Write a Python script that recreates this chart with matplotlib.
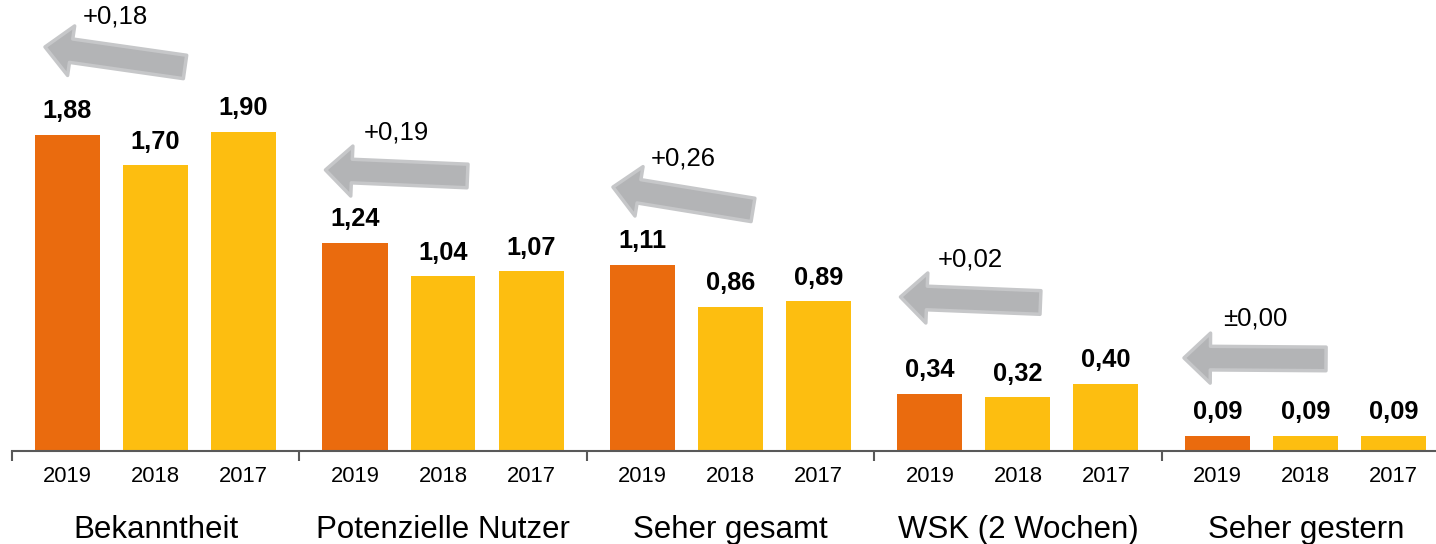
import matplotlib.pyplot as plt
from matplotlib.patches import FancyArrowPatch, ArrowStyle

plt.rcParams['font.family'] = ['Liberation Sans', 'DejaVu Sans']

categories = ["Bekanntheit", "Potenzielle Nutzer", "Seher gesamt", "WSK (2 Wochen)", "Seher gestern"]
years = ["2019", "2018", "2017"]
values = [
    [1.88, 1.70, 1.90],
    [1.24, 1.04, 1.07],
    [1.11, 0.86, 0.89],
    [0.34, 0.32, 0.40],
    [0.09, 0.09, 0.09],
]
deltas = ["+0,18", "+0,19", "+0,26", "+0,02", "±0,00"]

# Pfeil-Lage pro Gruppe: (x Spitze, y Spitze, x Ende, y Ende), x relativ zum Gruppenanfang
arrow_pos = [
    (0.375, 2.405, 1.966, 2.286),
    (0.295, 1.673, 1.909, 1.637),
    (0.295, 1.571, 1.886, 1.435),
    (0.295, 0.917, 1.886, 0.884),
    (0.25, 0.554, 1.864, 0.548),
]

colors = ["#EA6B0E", "#FDBE10", "#FDBE10"]
px = 88.0  # Pixel pro Balkenabstand
group_w = 287.5 / px
margin = 55.5 / px
bar_w = 65 / px

fig = plt.figure(figsize=(14.36, 5.44), dpi=100)
ax = fig.add_axes([12 / 1436, 93 / 544, 1 - 12 / 1436, 451 / 544])

xticks = []
for g, vals in enumerate(values):
    x0 = g * group_w
    for i, v in enumerate(vals):
        x = x0 + margin + i
        xticks.append(x)
        ax.bar(x, v, width=bar_w, color=colors[i], edgecolor="none")
        ax.annotate(f"{v:.2f}".replace(".", ","), (x, v), xytext=(0, 12),
                    textcoords="offset points", ha="center", va="baseline",
                    fontsize=18.3, fontweight="bold", color="black")
    ax.annotate(categories[g], (x0 + group_w / 2, 0), xycoords=("data", "axes fraction"),
                xytext=(0, -57), textcoords="offset points", ha="center", va="center",
                fontsize=22.5)
    ax_, ay, bx, by = arrow_pos[g]
    tip = (x0 + ax_, ay)
    tail = (x0 + bx, by)
    arr = FancyArrowPatch(tail, tip, arrowstyle=ArrowStyle.Simple(head_length=19, head_width=36, tail_width=17),
                          mutation_scale=1, shrinkA=0, shrinkB=0,
                          facecolor="#B3B4B6", edgecolor="#C6C7C9", linewidth=2.5, joinstyle="round")
    ax.add_patch(arr)
    mx = (tip[0] + tail[0]) / 2
    my = (tip[1] + tail[1]) / 2
    ax.annotate(deltas[g], (mx, my), xytext=(0, 29), textcoords="offset points",
                ha="center", va="center", fontsize=18.5)

ax.set_xticks(xticks)
ax.set_xticklabels(years * len(categories), fontsize=15.8)
ax.set_xticks([g * group_w for g in range(len(categories))], minor=True)
ax.tick_params(axis="x", which="major", length=0, pad=11)
ax.tick_params(axis="x", which="minor", length=7, width=1.5, color="#595959", direction="out")
ax.set_yticks([])
ax.set_xlim(0, 1424 / px)
ax.set_ylim(0, 451 / 168)
for s in ["top", "right", "left"]:
    ax.spines[s].set_visible(False)
ax.spines["bottom"].set_color("#595959")
ax.spines["bottom"].set_linewidth(1.5)

fig.savefig("out.png", dpi=100)
